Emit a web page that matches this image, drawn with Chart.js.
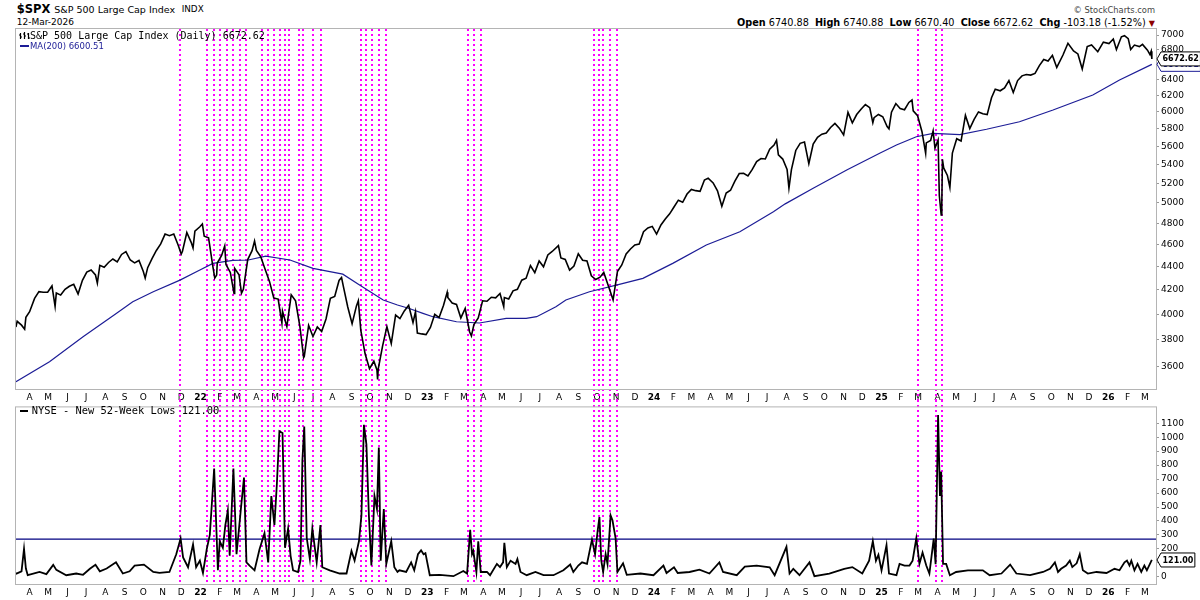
<!DOCTYPE html>
<html>
<head>
<meta charset="utf-8">
<title>$SPX with NYSE New 52-Week Lows</title>
<script src="https://cdn.jsdelivr.net/npm/chart.js@4.4.1/dist/chart.umd.min.js"></script>
<style>
  html, body { margin: 0; padding: 0; background: #fff; }
  body { width: 1200px; height: 600px; position: relative; overflow: hidden;
         font-family: "DejaVu Sans", Verdana, sans-serif; color: #000; }
  .t { position: absolute; white-space: nowrap; line-height: 1; }
  .mono { font-family: "DejaVu Sans Mono", monospace; }
  canvas { position: absolute; left: 0; }
</style>
</head>
<body>
<div class="t" style="left:16.7px; top:3.6px; font-size:11.5px; font-weight:bold;">$SPX</div>
<div class="t" style="left:54.3px; top:4.7px; font-size:9.5px;">S&amp;P 500 Large Cap Index</div>
<div class="t" style="left:181.7px; top:5.3px; font-size:8.8px;">INDX</div>
<div class="t" style="left:16.7px; top:18.4px; font-size:9px;">12-Mar-2026</div>
<div class="t" style="right:45px; top:5.7px; font-size:8.3px; color:#444;">&copy; StockCharts.com</div>
<div class="t" style="right:45px; top:17.8px; font-size:9.7px;"><b>Open</b> 6740.88&nbsp;&nbsp;<b>High</b> 6740.88&nbsp;&nbsp;<b>Low</b> 6670.40&nbsp;&nbsp;<b>Close</b> 6672.62&nbsp;&nbsp;<b>Chg</b> -103.18 (-1.52%) <span style="color:#8b0000; font-size:8px;">&#9660;</span></div>

<canvas id="priceChart" width="1200" height="404" style="top:0; width:1200px; height:404px;"></canvas>
<canvas id="lowsChart" width="1200" height="200" style="top:400px; width:1200px; height:200px;"></canvas>

<svg style="position:absolute; left:19px; top:32px;" width="11" height="8">
  <path d="M1.5 1v6M0 3h1.5M1.5 5h1.5M5.5 0v7M4 2h1.5M5.5 4h1.5M9.5 1v6M8 2h1.5M9.5 6h1.5" stroke="#000" stroke-width="1.2" fill="none"/>
</svg>
<div class="t mono" style="left:30px; top:30.5px; font-size:10px;">S&amp;P 500 Large Cap Index (Daily) 6672.62</div>
<div style="position:absolute; left:19.5px; top:45px; width:9.5px; height:2px; background:#1c1c96;"></div>
<div class="t" style="left:30px; top:42.3px; font-size:8.5px; color:#1c1c96;">MA(200) 6600.51</div>
<div style="position:absolute; left:19.5px; top:409.5px; width:8.5px; height:2px; background:#000;"></div>
<div class="t mono" style="left:31.7px; top:405.2px; font-size:10.4px;">NYSE - New 52-Week Lows 121.00</div>

<script>
// S&P 500 closes (plus a few intraday extremes)
const spxDates = [
  "2021-03-10","2021-03-12","2021-03-19","2021-03-24","2021-03-26","2021-04-01","2021-04-09","2021-04-16","2021-04-23","2021-04-30",
  "2021-05-07","2021-05-12","2021-05-14","2021-05-21","2021-05-28","2021-06-04","2021-06-11","2021-06-18","2021-06-25","2021-07-02",
  "2021-07-09","2021-07-16","2021-07-19","2021-07-23","2021-07-30","2021-08-06","2021-08-13","2021-08-20","2021-08-27","2021-09-03",
  "2021-09-10","2021-09-17","2021-09-24","2021-10-01","2021-10-04","2021-10-08","2021-10-15","2021-10-22","2021-10-29","2021-11-05",
  "2021-11-12","2021-11-19","2021-11-26","2021-12-01","2021-12-03","2021-12-10","2021-12-17","2021-12-20","2021-12-23","2021-12-31",
  "2022-01-04","2022-01-07","2022-01-14","2022-01-21","2022-01-24","2022-01-27","2022-01-28","2022-02-04","2022-02-09","2022-02-11",
  "2022-02-18","2022-02-24","2022-02-25","2022-03-04","2022-03-08","2022-03-11","2022-03-18","2022-03-25","2022-03-29","2022-04-01",
  "2022-04-08","2022-04-14","2022-04-22","2022-04-29","2022-05-06","2022-05-12","2022-05-13","2022-05-20","2022-05-27","2022-06-03",
  "2022-06-10","2022-06-16","2022-06-17","2022-06-24","2022-07-01","2022-07-08","2022-07-15","2022-07-22","2022-07-29","2022-08-05",
  "2022-08-12","2022-08-16","2022-08-19","2022-08-26","2022-09-02","2022-09-09","2022-09-12","2022-09-16","2022-09-23","2022-09-30",
  "2022-10-07","2022-10-12","2022-10-13","2022-10-14","2022-10-21","2022-10-28","2022-11-04","2022-11-11","2022-11-18","2022-11-25",
  "2022-12-02","2022-12-09","2022-12-13","2022-12-16","2022-12-23","2022-12-30","2023-01-06","2023-01-13","2023-01-20","2023-01-27",
  "2023-02-02","2023-02-03","2023-02-10","2023-02-17","2023-02-24","2023-03-03","2023-03-10","2023-03-13","2023-03-17","2023-03-24",
  "2023-03-31","2023-04-07","2023-04-14","2023-04-21","2023-04-28","2023-05-04","2023-05-05","2023-05-12","2023-05-19","2023-05-26",
  "2023-06-02","2023-06-09","2023-06-16","2023-06-23","2023-06-30","2023-07-07","2023-07-14","2023-07-21","2023-07-31","2023-08-04",
  "2023-08-11","2023-08-18","2023-08-25","2023-09-01","2023-09-08","2023-09-15","2023-09-22","2023-09-29","2023-10-06","2023-10-12",
  "2023-10-20","2023-10-27","2023-11-03","2023-11-10","2023-11-17","2023-11-24","2023-12-01","2023-12-08","2023-12-15","2023-12-22",
  "2023-12-29","2024-01-05","2024-01-12","2024-01-19","2024-01-26","2024-02-02","2024-02-09","2024-02-16","2024-02-23","2024-03-01",
  "2024-03-08","2024-03-15","2024-03-22","2024-03-28","2024-04-05","2024-04-12","2024-04-19","2024-04-26","2024-05-03","2024-05-10",
  "2024-05-17","2024-05-24","2024-05-31","2024-06-07","2024-06-14","2024-06-21","2024-06-28","2024-07-05","2024-07-12","2024-07-16",
  "2024-07-19","2024-07-26","2024-08-02","2024-08-05","2024-08-09","2024-08-16","2024-08-23","2024-08-30","2024-09-06","2024-09-13",
  "2024-09-20","2024-09-27","2024-10-04","2024-10-11","2024-10-18","2024-10-25","2024-11-01","2024-11-08","2024-11-15","2024-11-22",
  "2024-11-29","2024-12-06","2024-12-13","2024-12-18","2024-12-20","2024-12-27","2025-01-03","2025-01-10","2025-01-13","2025-01-17",
  "2025-01-24","2025-01-31","2025-02-07","2025-02-14","2025-02-19","2025-02-21","2025-02-28","2025-03-07","2025-03-13","2025-03-14",
  "2025-03-21","2025-03-25","2025-03-28","2025-04-02","2025-04-04","2025-04-07","2025-04-08","2025-04-09","2025-04-11","2025-04-17",
  "2025-04-21","2025-04-25","2025-05-02","2025-05-09","2025-05-16","2025-05-23","2025-05-30","2025-06-06","2025-06-13","2025-06-20",
  "2025-06-27","2025-07-03","2025-07-11","2025-07-18","2025-07-25","2025-08-01","2025-08-08","2025-08-15","2025-08-22","2025-08-29",
  "2025-09-05","2025-09-12","2025-09-19","2025-09-26","2025-10-03","2025-10-10","2025-10-20","2025-10-28","2025-11-06","2025-11-13",
  "2025-11-20","2025-11-28","2025-12-05","2025-12-15","2025-12-24","2026-01-02","2026-01-09","2026-01-14","2026-01-22","2026-01-27",
  "2026-02-02","2026-02-06","2026-02-12","2026-02-20","2026-02-25","2026-03-05","2026-03-09","2026-03-11","2026-03-12"
];
const spxValues = [
  3898,3943,3913,3881,3975,4020,4129,4185,4180,4181,
  4233,4063,4174,4156,4204,4230,4247,4166,4281,4352,
  4370,4327,4258,4412,4395,4437,4468,4442,4509,4535,
  4459,4433,4455,4357,4300,4391,4471,4545,4605,4697,
  4682,4698,4595,4513,4538,4712,4620,4568,4725,4766,
  4793,4677,4662,4398,4300,4326,4432,4500,4587,4419,
  4349,4170,4385,4329,4171,4204,4463,4543,4632,4546,
  4488,4393,4272,4132,4123,3930,4024,3901,4158,4109,
  3901,3667,3675,3912,3825,3899,3863,3962,4130,4145,
  4280,4305,4228,4058,3924,4067,4110,3873,3693,3586,
  3640,3577,3510,3583,3752,3901,3771,3993,3965,4026,
  4072,3934,4019,3852,3845,3840,3895,3999,3973,4071,
  4180,4136,4090,4079,3970,4046,3862,3830,3917,3971,
  4109,4105,4138,4133,4169,4061,4136,4124,4192,4205,
  4282,4299,4410,4348,4450,4399,4505,4536,4589,4478,
  4464,4370,4406,4515,4457,4450,4320,4288,4308,4349,
  4224,4117,4358,4415,4514,4559,4595,4604,4719,4755,
  4770,4697,4784,4840,4891,4959,5027,5006,5089,5137,
  5124,5117,5234,5254,5204,5123,4967,5100,5128,5223,
  5303,5305,5278,5347,5432,5465,5460,5567,5615,5667,
  5505,5459,5346,5150,5344,5554,5634,5648,5408,5626,
  5703,5738,5751,5815,5864,5808,5729,5995,5870,5969,
  6032,6090,6051,5872,5931,5970,5942,5827,5800,5997,
  6101,6041,6026,6115,6144,6013,5955,5770,5522,5639,
  5667,5777,5581,5671,5074,4880,4983,5457,5363,5283,
  5158,5525,5686,5660,5958,5803,5912,6000,5977,5968,
  6173,6279,6260,6297,6389,6238,6389,6450,6467,6460,
  6482,6584,6664,6644,6720,6560,6725,6885,6780,6740,
  6540,6840,6862,6770,6900,6880,6944,6800,6975,6990,
  6950,6800,6860,6840,6870,6790,6730,6776,6672.62
];

// 200-day moving average
const maDates = [
  "2021-03-10","2021-05-03","2021-06-26","2021-08-19","2021-09-14","2021-10-17","2021-11-29","2021-12-31","2022-01-21","2022-02-22",
  "2022-03-19","2022-04-16","2022-05-25","2022-07-01","2022-08-18","2022-09-14","2022-10-22","2022-11-14","2022-12-03","2022-12-25",
  "2023-01-10","2023-02-17","2023-03-26","2023-05-08","2023-06-09","2023-06-26","2023-07-27","2023-08-12","2023-09-19","2023-11-06",
  "2023-12-14","2024-01-31","2024-03-25","2024-05-18","2024-07-11","2024-07-30","2024-09-13","2024-11-06","2024-12-29","2025-01-25",
  "2025-02-26","2025-03-25","2025-05-07","2025-06-19","2025-08-11","2025-10-04","2025-12-07","2026-01-19","2026-03-12"
];
const maValues = [
  3493,3637,3823,4007,4101,4184,4283,4370,4429,4456,
  4459,4494,4459,4385,4334,4241,4115,4074,4046,4007,
  3980,3940,3930,3967,3967,3980,4060,4115,4184,4246,
  4298,4429,4595,4719,4912,4990,5148,5340,5522,5615,
  5709,5748,5733,5795,5883,6023,6207,6396,6600.51
];

// NYSE new 52-week lows
const lowsDates = [
  "2021-03-10","2021-03-11","2021-03-19","2021-03-23","2021-03-26","2021-03-29","2021-04-17","2021-04-28","2021-05-09","2021-05-14",
  "2021-05-30","2021-06-15","2021-06-26","2021-07-07","2021-07-16","2021-07-23","2021-08-03","2021-08-18","2021-08-29","2021-09-09",
  "2021-09-17","2021-10-02","2021-10-17","2021-10-27","2021-11-12","2021-11-23","2021-11-30","2021-12-04","2021-12-12","2021-12-20",
  "2021-12-25","2021-12-31","2022-01-05","2022-01-11","2022-01-16","2022-01-23","2022-01-25","2022-01-29","2022-02-01","2022-02-06",
  "2022-02-10","2022-02-14","2022-02-17","2022-02-23","2022-02-28","2022-03-07","2022-03-12","2022-03-16","2022-03-21","2022-03-29",
  "2022-04-06","2022-04-14","2022-04-20","2022-04-25","2022-04-30","2022-05-04","2022-05-08","2022-05-13","2022-05-17","2022-05-22",
  "2022-05-26","2022-05-30","2022-06-07","2022-06-11","2022-06-14","2022-06-17","2022-06-21","2022-06-26","2022-06-30","2022-07-07",
  "2022-07-13","2022-07-16","2022-07-28","2022-08-13","2022-08-24","2022-09-01","2022-09-06","2022-09-13","2022-09-17","2022-09-21",
  "2022-09-25","2022-09-29","2022-10-03","2022-10-08","2022-10-12","2022-10-15","2022-10-18","2022-10-23","2022-10-27","2022-11-04",
  "2022-11-09","2022-11-14","2022-11-17","2022-11-28","2022-12-06","2022-12-11","2022-12-17","2022-12-22","2022-12-26","2022-12-29",
  "2023-01-05","2023-01-21","2023-02-12","2023-02-28","2023-03-06","2023-03-11","2023-03-14","2023-03-16","2023-03-21","2023-03-24",
  "2023-03-28","2023-04-07","2023-04-12","2023-04-23","2023-04-28","2023-05-03","2023-05-05","2023-05-09","2023-05-15","2023-05-23",
  "2023-05-26","2023-05-31","2023-06-10","2023-06-24","2023-07-07","2023-07-23","2023-08-08","2023-08-19","2023-08-24","2023-09-01",
  "2023-09-07","2023-09-15","2023-09-23","2023-09-28","2023-10-02","2023-10-05","2023-10-08","2023-10-11","2023-10-15","2023-10-18",
  "2023-10-23","2023-10-26","2023-10-31","2023-11-03","2023-11-12","2023-11-18","2023-12-10","2023-12-31","2024-01-16","2024-01-21",
  "2024-02-02","2024-02-08","2024-02-27","2024-03-14","2024-03-30","2024-04-15","2024-04-21","2024-05-13","2024-05-26","2024-06-14",
  "2024-07-05","2024-07-13","2024-08-01","2024-08-06","2024-08-12","2024-08-22","2024-09-07","2024-09-15","2024-10-09","2024-11-02",
  "2024-11-15","2024-12-01","2024-12-12","2024-12-18","2024-12-23","2024-12-27","2025-01-01","2025-01-09","2025-01-13","2025-01-25",
  "2025-01-30","2025-02-07","2025-02-15","2025-02-20","2025-02-26","2025-03-03","2025-03-08","2025-03-14","2025-03-19","2025-03-26",
  "2025-03-29","2025-04-02","2025-04-05","2025-04-07","2025-04-10","2025-04-15","2025-04-21","2025-05-01","2025-05-20","2025-06-13",
  "2025-06-24","2025-07-13","2025-07-27","2025-08-06","2025-08-28","2025-09-18","2025-09-29","2025-10-07","2025-10-12","2025-10-17",
  "2025-10-25","2025-10-31","2025-11-04","2025-11-11","2025-11-16","2025-11-21","2025-11-29","2025-12-13","2025-12-29","2026-01-11",
  "2026-01-19","2026-01-27","2026-01-31","2026-02-04","2026-02-07","2026-02-12","2026-02-17","2026-02-23","2026-02-28","2026-03-04",
  "2026-03-12"
];
const lowsValues = [
  30,24,40,201,60,12,35,20,86,50,
  12,24,15,58,86,40,60,104,24,40,
  80,88,35,28,35,162,274,139,69,232,
  69,116,28,197,301,776,533,47,255,208,
  371,475,151,776,162,486,711,104,81,47,
  197,313,104,579,371,672,1042,1030,208,347,
  151,47,35,116,833,1076,278,128,347,104,
  371,69,47,24,24,185,116,255,440,1088,
  949,440,81,579,486,926,116,486,93,255,
  69,35,47,35,104,47,162,190,162,170,
  12,15,5,42,24,336,162,185,35,255,
  35,35,12,93,70,104,243,70,116,93,
  128,35,12,35,12,12,47,88,35,81,
  104,93,267,162,324,428,116,35,162,93,
  440,405,278,35,97,15,24,12,81,28,
  69,28,35,52,24,104,35,12,74,81,
  69,12,215,24,58,12,104,5,24,58,
  70,24,116,255,116,158,47,227,24,12,
  93,81,81,116,278,93,174,81,24,274,
  90,1158,579,753,93,93,12,35,47,47,
  12,24,88,24,12,35,58,104,35,58,
  81,116,70,97,162,47,24,35,28,58,
  47,104,116,81,116,47,93,35,81,47,
  121
];
const lowsThreshold = 270;

// dates marked by the magenta dotted verticals
const signalDates = [
  "2021-11-29","2022-01-12","2022-01-22","2022-02-01","2022-02-13","2022-02-23","2022-03-06","2022-03-16","2022-04-10","2022-04-19",
  "2022-04-29","2022-05-09","2022-05-17","2022-05-23","2022-06-09","2022-06-15","2022-07-01","2022-07-14","2022-09-17","2022-09-24",
  "2022-10-04","2022-10-16","2022-10-27","2023-03-08","2023-03-17","2023-03-28","2023-09-26","2023-10-04","2023-10-11","2023-10-22",
  "2023-11-02","2025-02-28","2025-03-29","2025-04-09"
];

const priceTicks = [3600,3800,4000,4200,4400,4600,4800,5000,5200,5400,5600,5800,6000,6200,6400,6600,6800,7000];
const lowsTicks = [0,100,200,300,400,500,600,700,800,900,1000,1100];
const monthLetters = ["J","F","M","A","M","J","J","A","S","O","N","D"];

const FONT = '"DejaVu Sans", Verdana, sans-serif';
const DAY0 = Date.UTC(2021, 0, 1);
const toDay = s => (Date.parse(s + "T00:00:00Z") - DAY0) / 86400000;
const X_MIN = 68.1, X_MAX = 1902.7;

// month starts Apr 2021 .. Mar 2026; January shows the year instead
const monthTicks = [];
for (let y = 2021, m = 3; y < 2026 || m <= 2; ) {
  monthTicks.push({ value: (Date.UTC(y, m, 1) - DAY0) / 86400000,
                    label: m === 0 ? String(y).slice(2) : monthLetters[m], bold: m === 0 });
  if (++m === 12) { m = 0; y++; }
}
const tickInfo = v => monthTicks.find(t => t.value === v);

const pts = (dates, vals) => dates.map((d, i) => ({ x: toDay(d), y: vals[i] }));

function xAxis(h) {
  return {
    type: "linear", min: X_MIN, max: X_MAX,
    grid: { display: false, drawTicks: false },
    border: { display: false },
    afterBuildTicks: s => { s.ticks = monthTicks.map(t => ({ value: t.value })); },
    afterFit: s => { s.height = h; },
    ticks: {
      autoSkip: false, maxRotation: 0, minRotation: 0, padding: 3, color: "#000",
      font: c => {
        const t = c.tick && tickInfo(c.tick.value);
        return { family: FONT, size: 9, weight: t && t.bold ? "bold" : "normal" };
      },
      callback: v => { const t = tickInfo(v); return t ? t.label : ""; }
    }
  };
}

function yAxis(extra) {
  return Object.assign({
    position: "right",
    grid: { drawOnChartArea: false, drawTicks: true, tickLength: 3, color: "#999" },
    border: { display: false },
    afterFit: s => { s.width = 44; },
    ticks: { padding: 2, color: "#000", font: { family: FONT, size: 9 }, callback: v => String(v) }
  }, extra);
}

function drawTag(ctx, x, y, text, color) {
  ctx.save();
  ctx.font = "bold 8px " + FONT;
  const w = ctx.measureText(text).width + 3;
  ctx.beginPath();
  ctx.moveTo(x, y);
  ctx.lineTo(x + 4, y - 7);
  ctx.lineTo(x + 4 + w, y - 7);
  ctx.lineTo(x + 4 + w, y + 7);
  ctx.lineTo(x + 4, y + 7);
  ctx.closePath();
  ctx.fillStyle = "#fff";
  ctx.fill();
  ctx.strokeStyle = color;
  ctx.lineWidth = 1;
  ctx.stroke();
  ctx.fillStyle = color;
  ctx.textBaseline = "middle";
  ctx.fillText(text, x + 5.5, y + 0.5);
  ctx.restore();
}

function panelPlugin(isTop, tags) {
  return {
    id: "panel",
    beforeDatasetsDraw(chart) {
      const { ctx, chartArea, scales } = chart;
      const y0 = isTop ? chartArea.top : 0;
      const y1 = isTop ? chart.height : chartArea.bottom;
      ctx.save();
      ctx.strokeStyle = "#ff00ff";
      ctx.lineWidth = 2;
      ctx.setLineDash([2, 3]);
      signalDates.forEach(s => {
        const px = Math.round(scales.x.getPixelForValue(toDay(s)));
        ctx.beginPath();
        ctx.moveTo(px, y0);
        ctx.lineTo(px, y1);
        ctx.stroke();
      });
      ctx.restore();
    },
    afterDraw(chart) {
      const { ctx, chartArea, scales } = chart;
      ctx.save();
      ctx.strokeStyle = "#b4b4b4";
      ctx.lineWidth = 1;
      ctx.strokeRect(chartArea.left - 0.5, chartArea.top - 0.5,
                     chartArea.right - chartArea.left + 1, chartArea.bottom - chartArea.top + 1);
      ctx.restore();
      tags.forEach(t => drawTag(ctx, chartArea.right + 1, scales.y.getPixelForValue(t.value),
                                t.value.toFixed(2), t.color));
    }
  };
}

const common = {
  responsive: false,
  animation: false,
  events: [],
  plugins: { legend: { display: false }, tooltip: { enabled: false } },
  elements: { point: { radius: 0 }, line: { tension: 0 } }
};

new Chart(document.getElementById("priceChart"), {
  type: "line",
  data: {
    datasets: [
      { label: "S&P 500 Large Cap Index", data: pts(spxDates, spxValues), borderColor: "#000", borderWidth: 1.6 },
      { label: "MA(200)", data: pts(maDates, maValues), borderColor: "#1c1c96", borderWidth: 1.2 }
    ]
  },
  options: Object.assign({}, common, {
    layout: { padding: { top: 29, left: 16, right: 0, bottom: 0 } },
    scales: {
      x: xAxis(15),
      y: yAxis({
        type: "logarithmic", min: 3443, max: 7085,
        afterBuildTicks: s => { s.ticks = priceTicks.map(v => ({ value: v })); }
      })
    }
  }),
  plugins: [panelPlugin(true, [
    { value: maValues[maValues.length - 1], color: "#1c1c96" },
    { value: spxValues[spxValues.length - 1], color: "#000" }
  ])]
});

new Chart(document.getElementById("lowsChart"), {
  type: "line",
  data: {
    datasets: [
      { label: "NYSE - New 52-Week Lows", data: pts(lowsDates, lowsValues), borderColor: "#000", borderWidth: 1.8 },
      { label: "Threshold", data: [{ x: X_MIN, y: lowsThreshold }, { x: X_MAX, y: lowsThreshold }],
        borderColor: "#000080", borderWidth: 1.2 }
    ]
  },
  options: Object.assign({}, common, {
    layout: { padding: { top: 2, left: 16, right: 0, bottom: 0 } },
    scales: {
      x: xAxis(16),
      y: yAxis({
        type: "linear", min: -51, max: 1213,
        afterBuildTicks: s => { s.ticks = lowsTicks.map(v => ({ value: v })); }
      })
    }
  }),
  plugins: [panelPlugin(false, [
    { value: lowsValues[lowsValues.length - 1], color: "#000" }
  ])]
});
</script>
</body>
</html>
